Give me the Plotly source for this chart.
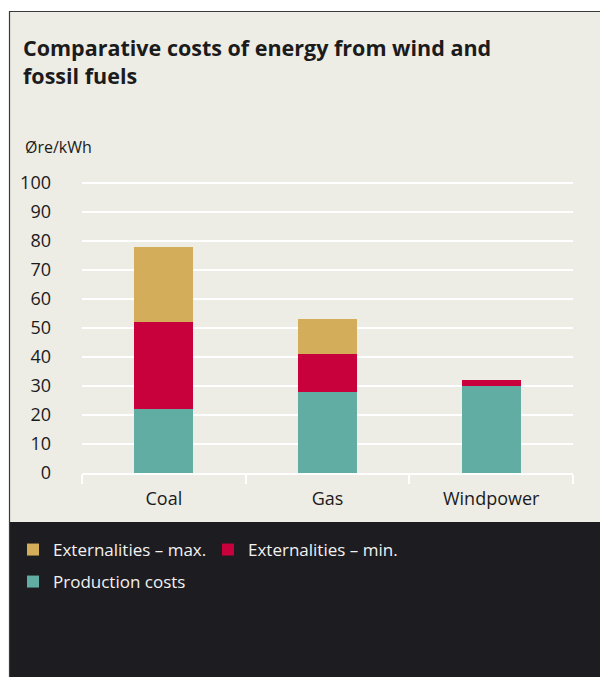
import plotly.graph_objects as go

categories = ["Coal", "Gas", "Windpower"]
production_costs = [22, 28, 30]
externalities_min = [30, 13, 2]
externalities_max = [26, 12, 0]
y_ticks = [0, 10, 20, 30, 40, 50, 60, 70, 80, 90, 100]

W, H = 600, 677
L, R, T, B = 82, 27, 180, 204
PW, PH = W - L - R, H - T - B
Y_MAX = PH / 2.9  # keeps the 100 gridline a few px inside the plot area

def px(x):
    return (x - L) / PW

def py(y):
    return (H - B - y) / PH

BEIGE = "#edece5"
DARK = "#1d1c20"
TEXT = "#1b1b1b"
FONT = "Open Sans"

fig = go.Figure()
fig.add_trace(go.Bar(x=categories, y=production_costs, name="Production costs",
                     marker=dict(color="#62ada3", line=dict(width=0)), legend="legend2"))
fig.add_trace(go.Bar(x=categories, y=externalities_min, name="Externalities – min.",
                     marker=dict(color="#c8003c", line=dict(width=0)), legend="legend"))
fig.add_trace(go.Bar(x=categories, y=externalities_max, name="Externalities – max.",
                     marker=dict(color="#d4ad5a", line=dict(width=0)), legend="legend"))

shapes = [
    dict(type="rect", xref="paper", yref="paper", x0=px(9), x1=px(605), y0=py(11), y1=py(522),
         fillcolor=BEIGE, line=dict(width=0), layer="below"),
    dict(type="rect", xref="paper", yref="paper", x0=px(9), x1=px(605), y0=py(522), y1=py(682),
         fillcolor=DARK, line=dict(width=0), layer="below"),
    dict(type="line", xref="paper", yref="paper", x0=px(9.5), x1=px(9.5), y0=py(11), y1=py(682),
         line=dict(color="#3a3a3a", width=1.2), layer="below"),
    dict(type="line", xref="paper", yref="paper", x0=px(9), x1=px(605), y0=py(11.5), y1=py(11.5),
         line=dict(color="#3a3a3a", width=1.2), layer="below"),
]

fig.update_layout(
    width=W, height=H,
    margin=dict(l=L, r=R, t=T, b=B, pad=0),
    paper_bgcolor="white",
    plot_bgcolor="rgba(0,0,0,0)",
    font=dict(family=FONT, color=TEXT, size=18),
    barmode="stack",
    bargap=0.64,
    title=dict(text="<b>Comparative costs of energy from wind and<br>fossil fuels</b>",
               x=23 / W, xanchor="left", xref="container",
               y=1 - 56 / H, yanchor="top", yref="container",
               font=dict(family=FONT, size=21.5, color=TEXT)),
    shapes=shapes,
    annotations=[dict(text="Øre/kWh", x=px(23), y=py(147), xref="paper", yref="paper",
                      xanchor="left", yanchor="middle", showarrow=False,
                      font=dict(family=FONT, size=16, color=TEXT))],
    xaxis=dict(type="category", showgrid=False, zeroline=False, showline=True,
               linecolor="white", linewidth=1.5, ticks="outside", tickson="boundaries",
               ticklen=9, tickwidth=1.5, tickcolor="white", ticklabelstandoff=9,
               tickfont=dict(family=FONT, size=18, color=TEXT)),
    yaxis=dict(range=[0, Y_MAX], tickvals=y_ticks, showgrid=True, gridcolor="white",
               gridwidth=1.5, zeroline=False, showline=False, ticks="",
               ticklabelstandoff=30, tickfont=dict(family=FONT, size=18, color=TEXT)),
    legend=dict(orientation="h", xref="container", yref="container",
                x=13 / W, y=1 - 532 / H, xanchor="left", yanchor="top",
                traceorder="reversed", entrywidth=150, bgcolor="rgba(0,0,0,0)",
                font=dict(family=FONT, size=17, color="#f2f2f2")),
    legend2=dict(orientation="h", xref="container", yref="container",
                 x=13 / W, y=1 - 564 / H, xanchor="left", yanchor="top",
                 bgcolor="rgba(0,0,0,0)",
                 font=dict(family=FONT, size=17, color="#f2f2f2")),
)

fig.write_html("out.html", config={"displayModeBar": False},
               post_script="document.body.style.margin='0';document.body.style.padding='0';")
